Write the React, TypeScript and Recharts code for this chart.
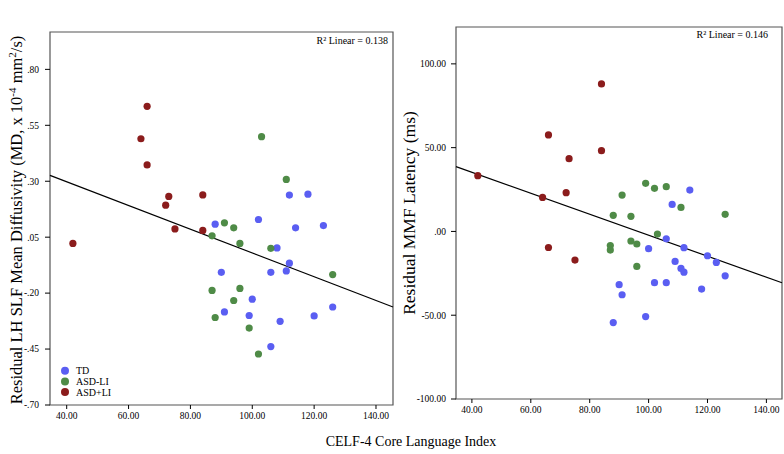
import React from 'react';
import {
  ScatterChart, Scatter, XAxis, YAxis, ReferenceLine, ReferenceArea,
} from 'recharts';

const FONT = '"Liberation Serif", "Times New Roman", serif';

const GROUPS = ['TD', 'ASD-LI', 'ASD+LI'];
const COLORS = ['#5a5ef2', '#4f8b47', '#8b1c1c'];

// Left panel: CELF-4 vs residual LH SLF mean diffusivity
const tdCelfL = [112, 118, 102, 88, 114, 123, 108, 112, 106, 111, 90, 100, 91, 99, 126, 120, 109, 106];
const tdMd = [0.238, 0.242, 0.129, 0.108, 0.092, 0.102, 0.002, -0.066, -0.107, -0.101, -0.107, -0.227, -0.284, -0.3, -0.262, -0.302, -0.326, -0.439];
const asdCelfL = [103, 111, 91, 94, 87, 96, 106, 126, 87, 96, 94, 88, 99, 102];
const asdMd = [0.499, 0.308, 0.114, 0.092, 0.056, 0.022, 0.0, -0.117, -0.188, -0.179, -0.233, -0.309, -0.356, -0.472];
const asdLiCelfL = [66, 64, 66, 73, 72, 84, 75, 84, 42];
const asdLiMd = [0.635, 0.49, 0.373, 0.232, 0.193, 0.239, 0.087, 0.08, 0.022];

// Right panel: CELF-4 vs residual MMF latency
const tdCelfR = [114, 108, 106, 100, 112, 120, 123, 109, 111, 112, 126, 102, 106, 90, 118, 91, 99, 88];
const tdMmf = [24.7, 16.1, -4.4, -10.3, -9.7, -14.5, -18.5, -17.9, -22.1, -24.3, -26.5, -30.6, -30.6, -31.8, -34.4, -37.8, -50.8, -54.4];
const asdCelfR = [99, 102, 106, 91, 111, 126, 88, 94, 103, 94, 96, 87, 87, 96];
const asdMmf = [28.7, 25.7, 26.7, 21.7, 14.3, 10.2, 9.6, 9.0, -1.6, -5.7, -7.5, -8.4, -11.1, -20.9];
const asdLiCelfR = [84, 66, 84, 73, 42, 72, 64, 66, 75];
const asdLiMmf = [88.0, 57.6, 48.2, 43.4, 33.3, 23.1, 20.3, -9.6, -17.1];

// fit line end points
const fitL = [{ x: 34.6, y: 0.326 }, { x: 145.5, y: -0.262 }];
const fitR = [{ x: 34.6, y: 38.65 }, { x: 145.3, y: -30.6 }];

const xTicks = [40, 60, 80, 100, 120, 140];
const mdTicks = [-0.7, -0.45, -0.2, 0.05, 0.3, 0.55, 0.8];
const mmfTicks = [-100, -50, 0, 50, 100];

const pts = (xs: number[], ys: number[]) => xs.map((x, i) => ({ x, y: ys[i] }));

const fmt = (v: number) => {
  const s = v.toFixed(2);
  return s.replace(/^(-?)0\./, '$1.');
};

const dot = (color: string) => (p: any) => <circle cx={p.cx} cy={p.cy} r={3.6} fill={color} />;

const XTick = (p: any) => (
  <text x={p.x} y={p.y} dy="0.71em" textAnchor="middle" fontSize={9.5} fontFamily={FONT} fill="#000">
    {fmt(p.payload.value)}
  </text>
);
const YTick = (p: any) => (
  <text x={p.x} y={p.y} dy="0.355em" textAnchor="end" fontSize={9.5} fontFamily={FONT} fill="#000">
    {fmt(p.payload.value)}
  </text>
);

export default function App() {
  const left = [pts(tdCelfL, tdMd), pts(asdCelfL, asdMd), pts(asdLiCelfL, asdLiMd)];
  const right = [pts(tdCelfR, tdMmf), pts(asdCelfR, asdMmf), pts(asdLiCelfR, asdLiMmf)];

  return (
    <div style={{ position: 'fixed', left: 0, top: 0, width: 784, height: 454, background: '#fff', fontFamily: FONT }}>
      <div style={{ position: 'absolute', left: 0, top: 0 }}>
        <ScatterChart width={400} height={454} margin={{ top: 32, right: 7, bottom: 19, left: 0 }}>
          <XAxis type="number" dataKey="x" domain={[34.6, 145.5]} ticks={xTicks}
            axisLine={false} tickLine={{ stroke: '#000' }} tickSize={4} tickMargin={3} height={30} tick={XTick} />
          <YAxis type="number" dataKey="y" domain={[-0.7, 0.967]} ticks={mdTicks}
            axisLine={false} tickLine={{ stroke: '#000' }} tickSize={5} tickMargin={6} width={50} tick={YTick} />
          <ReferenceArea x1={34.6} x2={145.5} y1={-0.7} y2={0.967} fill="none" stroke="#555" strokeWidth={1.2} ifOverflow="visible" />
          {left.map((d, i) => (
            <Scatter key={GROUPS[i]} name={GROUPS[i]} data={d} shape={dot(COLORS[i])} isAnimationActive={false} />
          ))}
          <ReferenceLine segment={fitL} stroke="#000" strokeWidth={1.2} ifOverflow="visible" />
        </ScatterChart>
      </div>
      <div style={{ position: 'absolute', left: 400, top: 0 }}>
        <ScatterChart width={384} height={454} margin={{ top: 27, right: 2, bottom: 25, left: 0 }}>
          <XAxis type="number" dataKey="x" domain={[34.6, 145.3]} ticks={xTicks}
            axisLine={false} tickLine={{ stroke: '#000' }} tickSize={4} tickMargin={3} height={30} tick={XTick} />
          <YAxis type="number" dataKey="y" domain={[-100, 122]} ticks={mmfTicks}
            axisLine={false} tickLine={{ stroke: '#000' }} tickSize={5} tickMargin={5} width={56} tick={YTick} />
          <ReferenceArea x1={34.6} x2={145.3} y1={-100} y2={122} fill="none" stroke="#555" strokeWidth={1.2} ifOverflow="visible" />
          {right.map((d, i) => (
            <Scatter key={GROUPS[i]} name={GROUPS[i]} data={d} shape={dot(COLORS[i])} isAnimationActive={false} />
          ))}
          <ReferenceLine segment={fitR} stroke="#000" strokeWidth={1.2} ifOverflow="visible" />
        </ScatterChart>
      </div>
      <svg width={784} height={454} style={{ position: 'absolute', left: 0, top: 0, pointerEvents: 'none' }} fontFamily={FONT}>
        <text x={388} y={44} fontSize={10} textAnchor="end">R² Linear = 0.138</text>
        <text x={768} y={38} fontSize={10} textAnchor="end">R² Linear = 0.146</text>
        {GROUPS.map((g, i) => (
          <g key={g}>
            <circle cx={65} cy={370.7 + i * 10.7} r={4} fill={COLORS[i]} />
            <text x={76} y={374.3 + i * 10.7} fontSize={10}>{g}</text>
          </g>
        ))}
        <text transform="translate(22,220) rotate(-90)" fontSize={16.5} textAnchor="middle">
          Residual LH SLF Mean Diffusivity (MD, x 10<tspan baselineShift="super" fontSize={11}>-4</tspan> mm<tspan baselineShift="super" fontSize={11}>2</tspan>/s)
        </text>
        <text transform="translate(415,213) rotate(-90)" fontSize={17.5} textAnchor="middle">
          Residual MMF Latency (ms)
        </text>
        <text x={411} y={446} fontSize={14} textAnchor="middle">CELF-4 Core Language Index</text>
      </svg>
    </div>
  );
}
